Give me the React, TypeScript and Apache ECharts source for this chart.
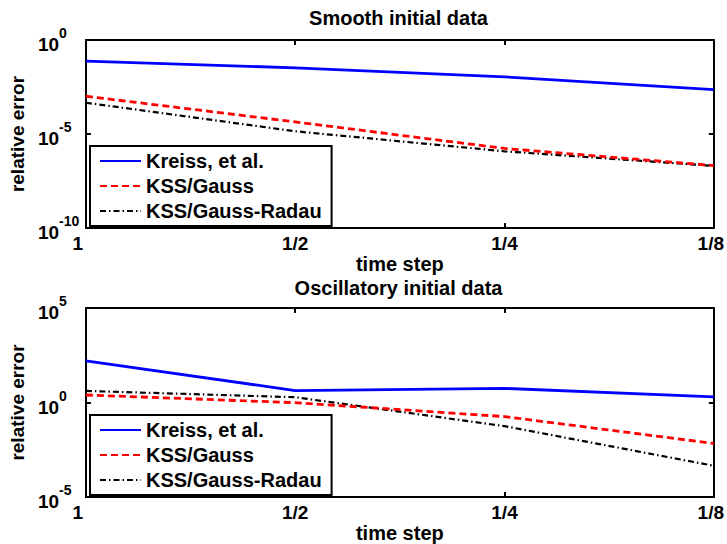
import React, { useEffect, useRef } from "react";
import * as echarts from "echarts";

// Time-step labels along the horizontal axis
const timeSteps = ["1", "1/2", "1/4", "1/8"];

// Smooth initial data: relative errors
const smoothKreiss = [0.076, 0.033, 0.011, 0.0023];
const smoothGauss = [1.02e-3, 4.4e-5, 1.7e-6, 2.1e-7];
const smoothRadau = [4.6e-4, 1.4e-5, 1.2e-6, 2.0e-7];

// Oscillatory initial data: relative errors
const oscKreiss = [158, 4.3, 5.6, 2.0];
const oscGauss = [2.5, 0.98, 0.18, 0.0068];
const oscRadau = [4.1, 1.9, 0.056, 0.00045];

const seriesNames = ["Kreiss, et al.", "KSS/Gauss", "KSS/Gauss-Radau"];

const FONT = "'Liberation Sans', Arial, Helvetica, sans-serif";

const lineStyles = [
  { color: "#0000ff", width: 2.8, type: "solid" as any },
  { color: "#ff0000", width: 2.8, type: [7, 4] as any },
  { color: "#000000", width: 2.2, type: [6, 3, 1.5, 3] as any },
];

const expFormatter = (v: number) => {
  const e = Math.round(Math.log10(v));
  return `{b|10}{e|${e}}`;
};

const xLabelFormatter = (v: string, i: number) => {
  if (i === 0) return `{first|${v}}`;
  if (i === timeSteps.length - 1) return `{last|${v}}`;
  return `{n|${v}}`;
};

const tickFont = { fontSize: 19, fontWeight: "bold", fontFamily: FONT, color: "#000" };

const tickLabelRich = {
  n: { ...tickFont },
  first: { ...tickFont, padding: [0, 16, 0, 0] },
  last: { ...tickFont, padding: [0, 6, 0, 0] },
};

const yLabelRich = {
  b: { ...tickFont, lineHeight: 28, verticalAlign: "bottom" },
  e: { fontSize: 14, fontWeight: "bold", fontFamily: FONT, color: "#000", lineHeight: 15, verticalAlign: "top" },
};

const axisLine = { show: true, onZero: false, lineStyle: { color: "#000", width: 2 } };
const axisTick = { show: true, inside: true, length: 5, lineStyle: { color: "#000", width: 2 } };

function buildPanel(idx: number, yMin: number, yMax: number) {
  const xAxes = [
    {
      type: "category",
      gridIndex: idx,
      data: timeSteps,
      boundaryGap: false,
      position: "bottom",
      axisLine,
      axisTick: { ...axisTick, alignWithLabel: true },
      splitLine: { show: false },
      axisLabel: {
        margin: 6,
        formatter: xLabelFormatter,
        rich: tickLabelRich,
      },
      name: "time step",
      nameLocation: "middle",
      nameGap: 26,
      nameTextStyle: { fontSize: 20, fontWeight: "bold", fontFamily: FONT, color: "#000" },
    },
    {
      type: "category",
      gridIndex: idx,
      data: timeSteps,
      boundaryGap: false,
      position: "top",
      axisLine,
      axisTick,
      axisLabel: { show: false },
      splitLine: { show: false },
    },
  ];
  const yAxes = [
    {
      type: "log",
      gridIndex: idx,
      logBase: 10,
      min: yMin,
      max: yMax,
      interval: 5,
      position: "left",
      axisLine,
      axisTick,
      minorTick: { show: false },
      splitLine: { show: false },
      axisLabel: {
        align: "left",
        margin: 48,
        formatter: expFormatter,
        rich: yLabelRich,
      },
      name: "relative error",
      nameLocation: "middle",
      nameGap: 56,
      nameTextStyle: { fontSize: 19, fontWeight: "bold", fontFamily: FONT, color: "#000" },
    },
    {
      type: "log",
      gridIndex: idx,
      logBase: 10,
      min: yMin,
      max: yMax,
      interval: 5,
      position: "right",
      axisLine,
      axisTick,
      minorTick: { show: false },
      splitLine: { show: false },
      axisLabel: { show: false },
    },
  ];
  return { xAxes, yAxes };
}

export default function App() {
  const ref = useRef<HTMLDivElement>(null);

  useEffect(() => {
    if (!ref.current) return;
    const chart = echarts.init(ref.current, undefined, { renderer: "svg" });

    const top = buildPanel(0, 1e-10, 1);
    const bottom = buildPanel(1, 1e-5, 1e5);

    const makeSeries = (data: number[], i: number, panel: number) => ({
      name: seriesNames[i],
      type: "line",
      xAxisIndex: panel * 2,
      yAxisIndex: panel * 2,
      data,
      symbol: "none",
      lineStyle: lineStyles[i],
      itemStyle: { color: lineStyles[i].color },
      z: 3 + (2 - i),
    });

    const legendBase = {
      orient: "vertical",
      left: 90,
      itemWidth: 41,
      itemHeight: 14,
      itemGap: 5,
      padding: [5, 10, 5, 9],
      borderColor: "#000",
      borderWidth: 2,
      backgroundColor: "#fff",
      itemStyle: { opacity: 0 },
      textStyle: { fontSize: 20, fontWeight: "bold", fontFamily: FONT, color: "#000", lineHeight: 19 },
      data: seriesNames,
    };

    const titleStyle = { fontSize: 20, fontWeight: "bold", fontFamily: FONT, color: "#000" };

    chart.setOption({
      animation: false,
      backgroundColor: "#fff",
      title: [
        { text: "Smooth initial data", left: 398.5, top: 8, textAlign: "center", padding: 0, textStyle: titleStyle },
        { text: "Oscillatory initial data", left: 398.5, top: 278, textAlign: "center", padding: 0, textStyle: titleStyle },
      ],
      grid: [
        { left: 83, top: 40, width: 631, height: 188 },
        { left: 83, top: 308, width: 631, height: 189 },
      ],
      xAxis: [...top.xAxes, ...bottom.xAxes],
      yAxis: [...top.yAxes, ...bottom.yAxes],
      legend: [
        { ...legendBase, top: 146 },
        { ...legendBase, top: 415 },
      ],
      series: [
        makeSeries(smoothKreiss, 0, 0),
        makeSeries(smoothGauss, 1, 0),
        makeSeries(smoothRadau, 2, 0),
        makeSeries(oscKreiss, 0, 1),
        makeSeries(oscGauss, 1, 1),
        makeSeries(oscRadau, 2, 1),
      ],
    });

    return () => chart.dispose();
  }, []);

  return (
    <div
      ref={ref}
      style={{ position: "fixed", left: 0, top: 0, width: 727, height: 544, background: "#fff" }}
    />
  );
}
